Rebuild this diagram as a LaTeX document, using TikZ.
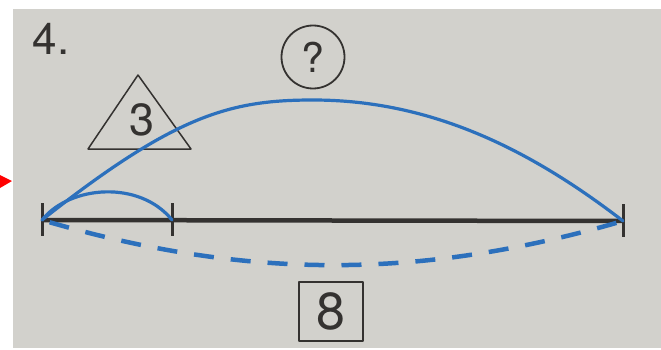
\documentclass[tikz,border=0pt]{standalone}
\usepackage{fontspec}
\setmainfont{TeX Gyre Heros}
\definecolor{paper}{RGB}{210,209,204}
\definecolor{ink}{RGB}{52,50,48}
\definecolor{arcblue}{RGB}{44,112,188}
\tikzset{
  label txt/.style={text=ink, inner sep=0pt},
  arcline/.style={draw=arcblue, line width=3.2pt, line cap=round},
  dasharc/.style={draw=arcblue, line width=4.5pt, dash pattern=on 20pt off 17pt, dash phase=29pt},
  tickline/.style={draw=ink, line width=3pt},
  mainline/.style={draw=ink, line width=4.5pt}
}
\begin{document}
\begin{tikzpicture}[x=1pt,y=-1pt,line join=round]
\useasboundingbox (0,0) rectangle (661,350);
\fill[white] (0,0) rectangle (661,350);
\fill[paper] (13,9) rectangle (661,348);
\fill[red] (0,175) -- (12,181) -- (0,188) -- cycle;

% task number
\node[label txt, font=\fontsize{44}{44}\selectfont] (num) at (51,39) {4.};

% question circle
\node[label txt, draw=ink, line width=1.8pt, circle, minimum size=63pt,
      font=\fontsize{41}{41}\selectfont] (q) at (313,57) {?};

% triangle with 3
\coordinate (t1) at (138,75);
\coordinate (t2) at (88,149);
\coordinate (t3) at (191,149);
\draw[ink, line width=1.5pt] (t1) -- (t2) -- (t3) -- cycle;
\node[label txt, font=\fontsize{45}{45}\selectfont] (three) at (142,120) {3};

% box with 8
\node[label txt, draw=ink, line width=1.8pt, minimum width=64pt, minimum height=59pt,
      font=\fontsize{52}{52}\selectfont] (eight) at (331,311.5) {8};

% number line
\coordinate (L) at (42,220);
\coordinate (M) at (172,220);
\coordinate (R) at (623,221);
\draw[mainline] (L) -- (R);
\draw[tickline] ([yshift=17pt]L) -- ([yshift=-16pt]L);
\draw[tickline] ([yshift=17pt]M) -- ([yshift=-16pt]M);
\draw[tickline] ([yshift=17pt]R) -- ([yshift=-16pt]R);

% arcs
\draw[dasharc] (L) .. controls (245,280) and (420,280) .. (R);
\draw[arcline] (L) .. controls (70,185) and (140,180) .. (M);
\draw[arcline] (L) .. controls (175,115) and (230,100) .. (313,100)
                   .. controls (433,100) and (532,151) .. (R);
\end{tikzpicture}
\end{document}
